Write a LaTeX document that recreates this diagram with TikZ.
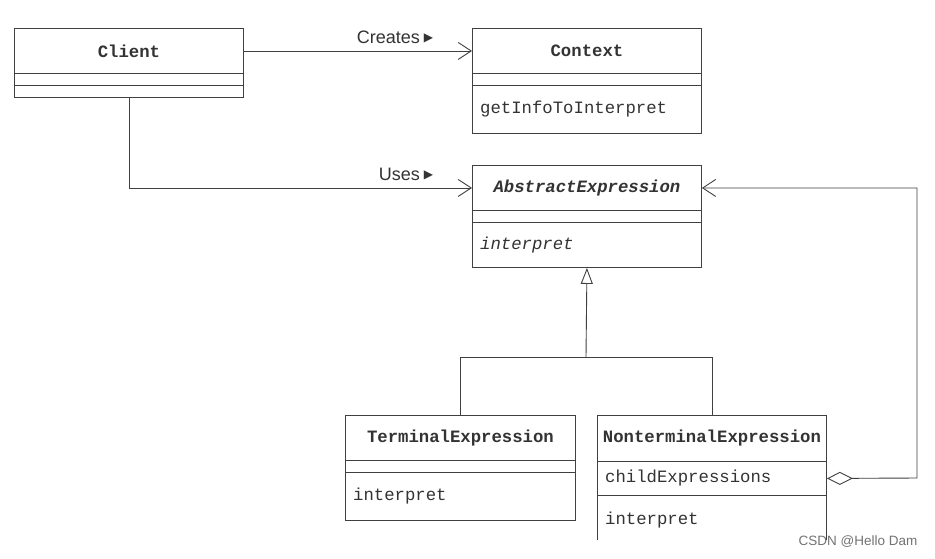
\documentclass[tikz,border=0pt]{standalone}
\usepackage{fontspec}
\setmainfont{Liberation Sans}
\setmonofont{Liberation Mono}
\newfontfamily\symfont{DejaVu Sans}
\usetikzlibrary{arrows.meta}
\colorlet{lc}{black!75}
\colorlet{tc}{black!80}
\newcommand{\rtri}{\raisebox{1.5pt}{\symfont\fontsize{12}{12}\selectfont ▶}}
\tikzset{
  comp/.style={draw=lc, line width=0.9pt, inner sep=0pt, minimum width=229pt, anchor=north west, text=tc, font=\fontsize{17.3}{20}\selectfont\ttfamily\bfseries},
  opencomp/.style={inner sep=0pt, minimum width=229pt, anchor=north west},
  mtext/.style={anchor=west, inner sep=0pt, text=tc, font=\fontsize{17.3}{20}\selectfont\ttfamily},
  lbl/.style={inner sep=0pt, text=tc, font=\fontsize{18}{20}\selectfont},
  conn/.style={draw=lc, line width=0.9pt},
  assoc/.style={conn, -{Straight Barb[length=13pt,width=17pt,line width=0.9pt]}},
  inh/.style={conn, -{Triangle[open,length=16pt,width=12pt,line width=0.9pt]}},
  aggr/.style={conn, {Diamond[open,length=26pt,width=13pt,line width=0.9pt]}-{Straight Barb[length=13pt,width=17pt,line width=0.9pt]}}
}
\begin{document}
\begin{tikzpicture}[x=1pt,y=-1pt]
\useasboundingbox[fill=white] (0,0) rectangle (935,558);
% Client
\node[comp, minimum height=45pt] (clT) at (14,28) {Client};
\node[comp, minimum height=12pt] (clA) at (14,73) {};
\node[comp, minimum height=12pt] (clM) at (14,85) {};
% Context
\node[comp, minimum height=45pt] (cxT) at (472,28) {Context};
\node[comp, minimum height=12pt] (cxA) at (472,73) {};
\node[comp, minimum height=48pt] (cxM) at (472,85) {};
\node[mtext] at ([xshift=8pt]cxM.west) {getInfoToInterpret};
% AbstractExpression
\node[comp, minimum height=45pt] (abT) at (472,165) {\itshape AbstractExpression};
\node[comp, minimum height=12pt] (abA) at (472,210) {};
\node[comp, minimum height=45pt] (abM) at (472,222) {};
\node[mtext, font=\fontsize{17.3}{20}\selectfont\ttfamily\itshape] at ([xshift=8pt]abM.west) {interpret};
% TerminalExpression
\node[comp, minimum width=230pt, minimum height=45pt] (teT) at (345,415) {TerminalExpression};
\node[comp, minimum width=230pt, minimum height=12pt] (teA) at (345,460) {};
\node[comp, minimum width=230pt, minimum height=48pt] (teM) at (345,472) {};
\node[mtext] at ([xshift=8pt]teM.west) {interpret};
% NonterminalExpression
\node[comp, minimum height=46pt] (ntT) at (597,415) {NonterminalExpression};
\node[comp, minimum height=34pt] (ntA) at (597,461) {};
\node[mtext] at ([xshift=8pt]ntA.west) {childExpressions};
\node[opencomp, minimum height=45pt] (ntM) at (597,495) {};
\draw[conn] (ntM.north west) -- (ntM.south west);
\draw[conn] (ntM.north east) -- (ntM.south east);
\node[mtext] at ([xshift=8pt,yshift=-2pt]ntM.west) {interpret};
% connectors
\draw[assoc] (clT.east) -- (cxT.west);
\node[lbl] at (395,37) {Creates\hspace{4pt}\rtri};
\draw[assoc] (clM.south) |- (abT.west);
\node[lbl] at (406,174) {Uses\hspace{4pt}\rtri};
\coordinate (j) at (586,357);
\draw[conn] (teT.north) |- (j);
\draw[conn] (ntT.north) |- (j);
\draw[inh] (j) -- (abM.south);
\coordinate (r) at (917,478);
\draw[aggr] (ntA.east) -- (r) |- (abT.east);
% watermark
\node[inner sep=0pt, text=black!55, font=\fontsize{13.5}{15}\selectfont] at (858,542) {CSDN @Hello Dam};
\end{tikzpicture}
\end{document}
